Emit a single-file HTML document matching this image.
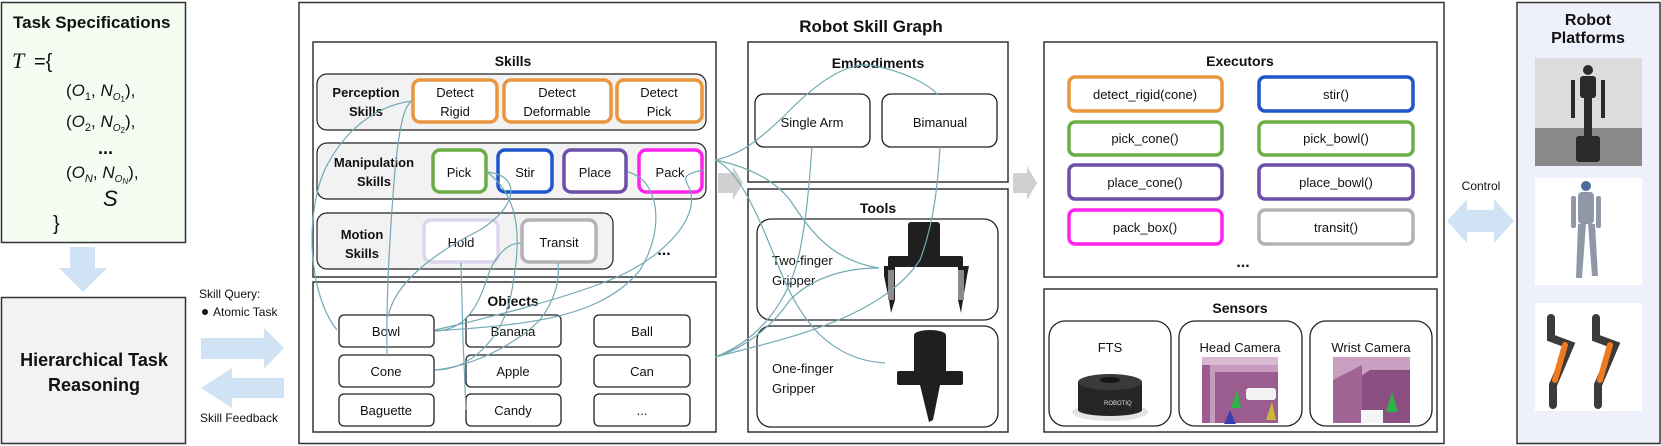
<!DOCTYPE html>
<html><head><meta charset="utf-8"><style>
html,body{margin:0;padding:0;background:#fff;width:1661px;height:446px;overflow:hidden}
svg{display:block}
text{font-family:"Liberation Sans",sans-serif;fill:#111}
.b{font-weight:bold}
.m{font-family:"Liberation Serif",serif;font-style:italic}
</style></head><body>
<svg width="1661" height="446" viewBox="0 0 1661 446" xmlns="http://www.w3.org/2000/svg">
<!-- Task specifications -->
<rect x="1.5" y="2.5" width="184" height="240" fill="#f5fdf3" stroke="#333" stroke-width="1.5"/>
<text x="13" y="28" class="b" font-size="17">Task Specifications</text>
<text x="12" y="68" class="m" font-size="22">T</text><text x="34" y="68" font-size="20" font-family="Liberation Serif">={</text>
<g font-family="Liberation Serif" font-size="17">
<text x="66" y="96">(<tspan font-style="italic">O</tspan><tspan font-size="11" dy="4">1</tspan><tspan dy="-4">, </tspan><tspan font-style="italic">N</tspan><tspan font-size="10" dy="4" font-style="italic">O</tspan><tspan font-size="8" dy="2">1</tspan><tspan dy="-6">),</tspan></text>
<text x="66" y="127">(<tspan font-style="italic">O</tspan><tspan font-size="11" dy="4">2</tspan><tspan dy="-4">, </tspan><tspan font-style="italic">N</tspan><tspan font-size="10" dy="4" font-style="italic">O</tspan><tspan font-size="8" dy="2">2</tspan><tspan dy="-6">),</tspan></text>
<text x="98" y="154" font-weight="bold" font-size="18">...</text>
<text x="66" y="178">(<tspan font-style="italic">O</tspan><tspan font-size="11" dy="4" font-style="italic">N</tspan><tspan dy="-4">, </tspan><tspan font-style="italic">N</tspan><tspan font-size="10" dy="4" font-style="italic">O</tspan><tspan font-size="8" dy="2" font-style="italic">N</tspan><tspan dy="-6">),</tspan></text>
<text x="103" y="206" font-style="italic" font-size="22">S</text>
<text x="53" y="230" font-size="20">}</text>
</g>
<!-- down arrow -->
<polygon points="70,247 95,247 95,268 107,268 83,292 59,268 70,268" fill="#d0e3f4"/>
<!-- Hierarchical -->
<rect x="1.5" y="297.5" width="184" height="146" fill="#f2f2f2" stroke="#333" stroke-width="1.5"/>
<text x="94" y="366" class="b" font-size="18" text-anchor="middle">Hierarchical Task</text>
<text x="94" y="391" class="b" font-size="18" text-anchor="middle">Reasoning</text>
<!-- query arrows -->
<text x="199" y="298" font-size="12">Skill Query:</text>
<circle cx="205" cy="312" r="3" fill="#111"/>
<text x="213" y="316" font-size="12">Atomic Task</text>
<text x="200" y="422" font-size="12">Skill Feedback</text>
<polygon points="201,338 264,338 264,328 284,348 264,369 264,359 201,359" fill="#d0e3f4"/>
<polygon points="284,378 232,378 232,368 201,388 232,408 232,398 284,398" fill="#d0e3f4"/>
<!-- main box -->
<rect x="299" y="2.5" width="1145" height="441" fill="#fff" stroke="#333" stroke-width="1.5"/>
<text x="871" y="32" class="b" font-size="17" text-anchor="middle">Robot Skill Graph</text>
<!-- Skills -->
<rect x="313" y="42" width="403" height="235" fill="#fff" stroke="#333" stroke-width="1.5"/>
<text x="513" y="66" class="b" font-size="14" text-anchor="middle">Skills</text>
<rect x="317" y="74" width="389" height="56" rx="10" fill="#f2f2f2" stroke="#222" stroke-width="1.2"/>
<text x="366" y="97" class="b" font-size="13" text-anchor="middle">Perception</text>
<text x="366" y="116" class="b" font-size="13" text-anchor="middle">Skills</text>
<g fill="#fff" stroke="#e8973e" stroke-width="3.5">
<rect x="413" y="80" width="84" height="42" rx="7"/>
<rect x="504" y="80" width="107" height="42" rx="7"/>
<rect x="617" y="80" width="85" height="42" rx="7"/>
</g>
<g font-size="13" text-anchor="middle">
<text x="455" y="97">Detect</text><text x="455" y="116">Rigid</text>
<text x="557" y="97">Detect</text><text x="557" y="116">Deformable</text>
<text x="659" y="97">Detect</text><text x="659" y="116">Pick</text>
</g>
<rect x="317" y="143" width="389" height="56" rx="10" fill="#f2f2f2" stroke="#222" stroke-width="1.2"/>
<text x="374" y="167" class="b" font-size="13" text-anchor="middle">Manipulation</text>
<text x="374" y="186" class="b" font-size="13" text-anchor="middle">Skills</text>
<rect x="433" y="150" width="53" height="42" rx="7" fill="#fff" stroke="#6bae45" stroke-width="3.5"/>
<rect x="498" y="150" width="54" height="42" rx="7" fill="#fff" stroke="#1f55cc" stroke-width="3.5"/>
<rect x="564" y="150" width="62" height="42" rx="7" fill="#fff" stroke="#6b4fa8" stroke-width="3.5"/>
<rect x="639" y="150" width="63" height="42" rx="7" fill="#fff" stroke="#ff22ee" stroke-width="3.5"/>
<g font-size="13" text-anchor="middle">
<text x="459" y="177">Pick</text><text x="525" y="177">Stir</text><text x="595" y="177">Place</text><text x="670" y="177">Pack</text>
</g>
<rect x="317" y="213" width="296" height="56" rx="10" fill="#f2f2f2" stroke="#222" stroke-width="1.2"/>
<text x="362" y="239" class="b" font-size="13" text-anchor="middle">Motion</text>
<text x="362" y="258" class="b" font-size="13" text-anchor="middle">Skills</text>
<rect x="424" y="220" width="74" height="42" rx="7" fill="#fff" stroke="#ddd5ee" stroke-width="3.5"/>
<rect x="522" y="220" width="74" height="42" rx="7" fill="#fff" stroke="#b3b3b3" stroke-width="3.5"/>
<text x="461" y="247" font-size="13" text-anchor="middle">Hold</text>
<text x="559" y="247" font-size="13" text-anchor="middle">Transit</text>
<text x="664" y="255" class="b" font-size="16" text-anchor="middle">...</text>
<!-- Objects -->
<rect x="313" y="282" width="403" height="150" fill="#fff" stroke="#333" stroke-width="1.5"/>
<text x="513" y="306" class="b" font-size="14" text-anchor="middle">Objects</text>
<g fill="#fff" stroke="#222" stroke-width="1.3">
<rect x="339" y="315" width="95" height="32" rx="5"/><rect x="466" y="315" width="95" height="32" rx="5"/><rect x="594" y="315" width="96" height="32" rx="5"/>
<rect x="339" y="355" width="95" height="32" rx="5"/><rect x="466" y="355" width="95" height="32" rx="5"/><rect x="594" y="355" width="96" height="32" rx="5"/>
<rect x="339" y="394" width="95" height="32" rx="5"/><rect x="466" y="394" width="95" height="32" rx="5"/><rect x="594" y="394" width="96" height="32" rx="5"/>
</g>
<g font-size="13" text-anchor="middle">
<text x="386" y="336">Bowl</text><text x="513" y="336">Banana</text><text x="642" y="336">Ball</text>
<text x="386" y="376">Cone</text><text x="513" y="376">Apple</text><text x="642" y="376">Can</text>
<text x="386" y="415">Baguette</text><text x="513" y="415">Candy</text><text x="642" y="415">...</text>
</g>
<!-- Embodiments -->
<rect x="748" y="42" width="260" height="140" fill="#fff" stroke="#333" stroke-width="1.5"/>
<text x="878" y="68" class="b" font-size="14" text-anchor="middle">Embodiments</text>
<rect x="755" y="94" width="115" height="53" rx="9" fill="#fff" stroke="#222" stroke-width="1.3"/>
<rect x="882" y="94" width="115" height="53" rx="9" fill="#fff" stroke="#222" stroke-width="1.3"/>
<text x="812" y="127" font-size="13" text-anchor="middle">Single Arm</text>
<text x="940" y="127" font-size="13" text-anchor="middle">Bimanual</text>
<!-- gray arrows -->
<polygon points="718,173 733,173 733,166 743,183 733,200 733,193 718,193" fill="#d0d0d0"/>
<polygon points="1013,173 1027,173 1027,166 1037,183 1027,200 1027,193 1013,193" fill="#d0d0d0"/>
<!-- Tools -->
<rect x="748" y="189" width="260" height="243" fill="#fff" stroke="#333" stroke-width="1.5"/>
<text x="878" y="213" class="b" font-size="14" text-anchor="middle">Tools</text>
<rect x="757" y="219" width="241" height="101" rx="14" fill="#fff" stroke="#222" stroke-width="1.3"/>
<rect x="757" y="326" width="241" height="101" rx="14" fill="#fff" stroke="#222" stroke-width="1.3"/>
<text x="772" y="265" font-size="13">Two-finger</text><text x="772" y="285" font-size="13">Gripper</text>
<text x="772" y="373" font-size="13">One-finger</text><text x="772" y="393" font-size="13">Gripper</text>
<!-- two finger gripper -->
<g fill="#1f1f1f">
<rect x="908" y="222" width="32" height="37" rx="3"/>
<rect x="888" y="256" width="75" height="11" rx="2"/>
<polygon points="884,266 895,266 895,300 891,313 889,300 884,276"/>
<polygon points="958,266 969,266 967,276 963,300 961,313 958,300"/>
</g>
<rect x="888" y="270" width="6" height="30" fill="#8a8a8a"/><rect x="958" y="270" width="6" height="30" fill="#8a8a8a"/>
<!-- one finger -->
<g fill="#1f1f1f">
<ellipse cx="930" cy="335" rx="16" ry="5"/>
<rect x="914" y="335" width="32" height="38"/>
<rect x="897" y="371" width="66" height="14" rx="2"/>
<polygon points="920,385 940,385 933,420 929,422"/>
</g>
<!-- Executors -->
<rect x="1044" y="42" width="393" height="235" fill="#fff" stroke="#333" stroke-width="1.5"/>
<text x="1240" y="66" class="b" font-size="14" text-anchor="middle">Executors</text>
<g fill="#fff" stroke-width="3.5">
<rect x="1069" y="77" width="153" height="34" rx="6" stroke="#e8973e"/>
<rect x="1259" y="77" width="154" height="34" rx="6" stroke="#1f55cc"/>
<rect x="1069" y="122" width="153" height="33" rx="6" stroke="#6bae45"/>
<rect x="1259" y="122" width="154" height="33" rx="6" stroke="#6bae45"/>
<rect x="1069" y="165" width="153" height="34" rx="6" stroke="#6b4fa8"/>
<rect x="1259" y="165" width="154" height="34" rx="6" stroke="#6b4fa8"/>
<rect x="1069" y="210" width="153" height="34" rx="6" stroke="#ff22ee"/>
<rect x="1259" y="210" width="154" height="34" rx="6" stroke="#b3b3b3"/>
</g>
<g font-size="13" text-anchor="middle">
<text x="1145" y="99">detect_rigid(cone)</text><text x="1336" y="99">stir()</text>
<text x="1145" y="143">pick_cone()</text><text x="1336" y="143">pick_bowl()</text>
<text x="1145" y="187">place_cone()</text><text x="1336" y="187">place_bowl()</text>
<text x="1145" y="232">pack_box()</text><text x="1336" y="232">transit()</text>
</g>
<text x="1243" y="267" class="b" font-size="16" text-anchor="middle">...</text>
<!-- Sensors -->
<rect x="1044" y="289" width="393" height="143" fill="#fff" stroke="#333" stroke-width="1.5"/>
<text x="1240" y="313" class="b" font-size="14" text-anchor="middle">Sensors</text>
<rect x="1049" y="321" width="122" height="105" rx="16" fill="#fff" stroke="#222" stroke-width="1.3"/>
<rect x="1179" y="321" width="123" height="105" rx="16" fill="#fff" stroke="#222" stroke-width="1.3"/>
<rect x="1310" y="321" width="122" height="105" rx="16" fill="#fff" stroke="#222" stroke-width="1.3"/>
<text x="1110" y="352" font-size="13" text-anchor="middle">FTS</text>
<text x="1240" y="352" font-size="13" text-anchor="middle">Head Camera</text>
<text x="1371" y="352" font-size="13" text-anchor="middle">Wrist Camera</text>
<!-- FTS image -->
<ellipse cx="1110" cy="412" rx="38" ry="9" fill="#e4e4e4"/>
<rect x="1078" y="382" width="64" height="28" fill="#262626"/>
<ellipse cx="1110" cy="410" rx="32" ry="6" fill="#262626"/>
<ellipse cx="1110" cy="382" rx="32" ry="8" fill="#3a3a3a"/>
<ellipse cx="1110" cy="380" rx="10" ry="3" fill="#151515"/>
<text x="1104" y="405" font-size="6" style="fill:#ddd">ROBOTIQ</text>
<!-- head camera -->
<rect x="1202" y="357" width="76" height="66" fill="#9b5c8f"/>
<rect x="1202" y="357" width="76" height="8" fill="#d7b9d2"/>
<polygon points="1210,365 1278,365 1278,372 1215,372 1215,423 1210,423" fill="#c79ac0"/>
<polygon points="1231,408 1237,390 1241,408" fill="#2cb34a"/>
<polygon points="1224,424 1230,410 1236,424" fill="#3d3db3"/>
<polygon points="1266,420 1272,402 1276,420" fill="#c9b93a"/>
<rect x="1246" y="388" width="30" height="12" rx="3" fill="#f3f3f3"/>
<!-- wrist camera -->
<rect x="1333" y="357" width="77" height="66" fill="#8c4f82"/>
<polygon points="1333,357 1410,357 1410,370 1370,370 1333,395" fill="#c9a0c2"/>
<polygon points="1333,380 1362,365 1362,423 1333,423" fill="#a06595"/>
<polygon points="1386,412 1392,392 1398,412" fill="#2cb34a"/>
<rect x="1361" y="410" width="22" height="13" fill="#f5f5f5"/>
<!-- connectors -->
<g fill="none" stroke="#73a9b5" stroke-width="1.2">
<path d="M337,330 C305,290 305,200 330,160 C350,125 380,105 412,101"/>
<path d="M387,355 C386,300 390,230 395,170 C400,120 405,105 412,101"/>
<path d="M388,317 C395,280 440,250 480,230 C520,205 520,175 487,172"/>
<path d="M435,331 C470,330 480,300 490,270 C500,250 510,243 521,243"/>
<path d="M435,331 C520,325 600,320 640,270 C665,230 660,180 628,172"/>
<path d="M435,330 C480,320 560,300 610,280 C660,260 700,220 690,190 C685,178 680,175 703,170"/>
<path d="M435,370 C480,365 520,340 540,320 C555,300 560,280 558,263"/>
<path d="M435,370 C470,370 500,340 510,300 C520,250 525,200 487,172"/>
<path d="M461,263 L463,340 L466,410"/>
<path d="M715,160 C740,155 760,140 790,110 C820,80 850,60 875,66 C905,72 930,85 938,95"/>
<path d="M715,160 C740,165 770,175 790,200 C810,230 830,260 879,268"/>
<path d="M715,160 C740,170 760,220 780,270 C800,320 830,360 885,363"/>
<path d="M715,357 C740,350 770,330 790,300 C810,280 840,268 879,268"/>
<path d="M715,357 C760,340 790,300 800,250 C808,210 810,170 812,147"/>
<path d="M715,357 C780,340 880,320 920,260 C935,220 938,180 940,147"/>
</g>
<!-- control -->
<text x="1481" y="190" font-size="12" text-anchor="middle">Control</text>
<polygon points="1447,221 1467,199 1467,210 1494,210 1494,199 1514,221 1494,243 1494,232 1467,232 1467,243" fill="#d0e3f4"/>
<!-- Robot platforms -->
<rect x="1517" y="2.5" width="143" height="441" fill="#eef0fb" stroke="#333" stroke-width="1.5"/>
<text x="1588" y="25" class="b" font-size="16" text-anchor="middle">Robot</text>
<text x="1588" y="43" class="b" font-size="16" text-anchor="middle">Platforms</text>
<!-- robot 1 -->
<rect x="1535" y="58" width="107" height="108" fill="#dcdcdc"/>
<rect x="1535" y="128" width="107" height="38" fill="#8a8a8a"/>
<g fill="#2a2a2a">
<circle cx="1588" cy="70" r="5"/><rect x="1580" y="76" width="16" height="22" rx="3"/>
<rect x="1571" y="80" width="4" height="38"/><rect x="1601" y="80" width="4" height="38"/>
<rect x="1584" y="98" width="8" height="38"/>
<rect x="1576" y="136" width="24" height="26" rx="3"/>
</g>
<!-- robot 2 -->
<rect x="1535" y="178" width="107" height="107" fill="#fff"/>
<g fill="#8f97a8">
<circle cx="1586" cy="186" r="5" fill="#4d6b9a"/>
<rect x="1578" y="192" width="16" height="32" rx="4"/>
<rect x="1571" y="196" width="5" height="32" rx="2"/><rect x="1596" y="196" width="5" height="32" rx="2"/>
<polygon points="1578,224 1586,224 1582,278 1576,278"/><polygon points="1588,224 1595,224 1598,276 1592,276"/>
</g>
<!-- robot 3 -->
<rect x="1535" y="303" width="107" height="108" fill="#fff"/>
<g stroke-linecap="round" fill="none">
<path d="M1551,318 L1551,338 L1570,345 L1553,385 L1553,405" stroke="#3b3b3b" stroke-width="8"/>
<path d="M1565,345 L1555,380" stroke="#f07a21" stroke-width="6"/>
<path d="M1596,318 L1596,338 L1615,345 L1598,385 L1598,405" stroke="#3b3b3b" stroke-width="8"/>
<path d="M1610,345 L1600,380" stroke="#f07a21" stroke-width="6"/>
</g>
</svg>
</body></html>
